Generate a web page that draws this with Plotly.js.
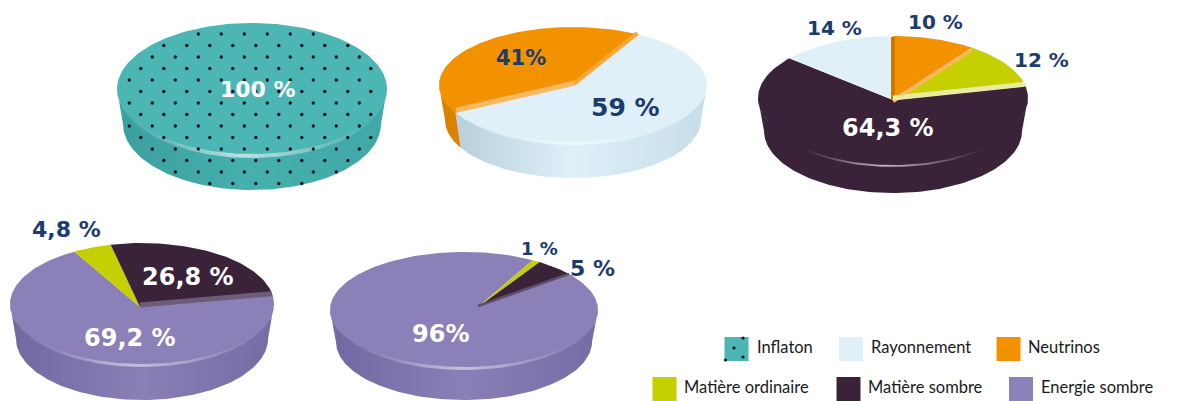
<!DOCTYPE html>
<html><head><meta charset="utf-8">
<script src="https://cdn.plot.ly/plotly-3.0.1.min.js"></script>
<style>html,body{margin:0;padding:0;background:#fff;overflow:hidden}#c{width:1192px;height:401px}</style>
</head><body><div id="c"></div>
<script>
// ---------- data ----------
const categories = ["Inflaton","Rayonnement","Neutrinos","Matière ordinaire","Matière sombre","Energie sombre"];
const pie1Names = ["Inflaton"];
const pie1Values = [100];
const pie2Names = ["Rayonnement","Neutrinos"];
const pie2Values = [59,41];
const pie3Names = ["Neutrinos","Matière ordinaire","Matière sombre","Rayonnement"];
const pie3Values = [10,12,64.3,14];
const pie4Names = ["Energie sombre","Matière ordinaire","Matière sombre"];
const pie4Values = [69.2,4.8,26.8];
const pie5Names = ["Energie sombre","Matière ordinaire","Matière sombre"];
const pie5Values = [96,1,5];
const pie1Labels = ["100 %"];
const pie2Labels = ["59 %","41%"];
const pie3Labels = ["10 %","12 %","64,3 %","14 %"];
const pie4Labels = ["69,2 %","4,8 %","26,8 %"];
const pie5Labels = ["96%","1 %","5 %"];

// ---------- styles ----------
const top_ = {"Inflaton":"#4cb6b5","Rayonnement":"#dff0f9","Neutrinos":"#f39200","Matière ordinaire":"#c6cf00","Matière sombre":"#3a2238","Energie sombre":"#8b80b7"};
const wallStops = {
 "Inflaton":["#3c9f9e","#45b0ae","#40a8a7"],
 "Rayonnement":["#b2cbd8","#dff0f8","#c6dde8"],
 "Neutrinos":["#d88200","#e48c00","#e48c00"],
 "Matière ordinaire":["#a0a800","#b0b800","#a0a800"],
 "Matière sombre":["#3a2238","#3a2238","#3a2238"],
 "Energie sombre":["#7268a2","#8a7fb6","#766ca5"]
};
const NAVY="#1c3b6e", WHITE="#ffffff";
const TAPER=6;
const pies = [
 {names:pie1Names,values:pie1Values,labels:pie1Labels,cx:252,cy:89,rx:135,ry:66,depth:35,start:90,ax:252,ay:89,
  lab:[[258,89,WHITE,22]],glow:[200,345,3,1,"rgba(255,255,255,.62)"],cuts:[]},
 {names:pie2Names,values:pie2Values,labels:pie2Labels,cx:573,cy:85,rx:134,ry:58,depth:35,start:61,ax:575,ay:85,
  lab:[[625,107,NAVY,25],[521,58,NAVY,21]],glow:[205,350,2,1,"rgba(255,255,255,.55)"],
  cuts:[[1,"#fbb860",5,-2],[0,"#f7a836",4,-2]]},
 {names:pie3Names,values:pie3Values,labels:pie3Labels,cx:893,cy:98,rx:135,ry:62,depth:33,start:90,ax:893,ay:100,
  lab:[[935,22,NAVY,20],[1041,60,NAVY,20],[888,128,WHITE,24],[834,28,NAVY,20]],glow:[228,312,7,-5,"rgba(205,195,215,.9)"],
  cuts:[[0,"#c97a00",4,0],[1,"#fbb860",4,1],[2,"#e9eba0",5,-2]]},
 {names:pie4Names,values:pie4Values,labels:pie4Labels,cx:142,cy:304,rx:132,ry:61,depth:35,start:8,ax:140,ay:307,
  lab:[[130,338,WHITE,24],[66,229,NAVY,22],[188,277,WHITE,24]],glow:[205,345,2,1,"rgba(255,255,255,.5)"],
  cuts:[[0,"#6d5c78",5,-2]]},
 {names:pie5Names,values:pie5Values,labels:pie5Labels,cx:464,cy:310,rx:134,ry:58,depth:32,start:38,ax:478,ay:307,
  lab:[[440,334,WHITE,24],[539,248,NAVY,18],[592,268,NAVY,22]],glow:[215,345,2,1,"rgba(255,255,255,.5)"],
  cuts:[[0,"#5c4d6a",2.5,-1]]}
];
const legendCells = [
 {name:"Inflaton",sx:736.5,sy:349,tx:755},
 {name:"Rayonnement",sx:851,sy:349,tx:869},
 {name:"Neutrinos",sx:1008.5,sy:349,tx:1026},
 {name:"Matière ordinaire",sx:664.5,sy:389,tx:682},
 {name:"Matière sombre",sx:848.5,sy:389,tx:866},
 {name:"Energie sombre",sx:1021,sy:389,tx:1039}
];
const LABEL_FONT='"DejaVu Sans"', LEGEND_FONT='Lato';

// ---------- geometry from values ----------
const rad=d=>d*Math.PI/180;
const px=(p,a,rX)=>p.cx+(rX===undefined?p.rx:rX)*Math.cos(rad(a));
const py=(p,a,rY)=>p.cy-(rY===undefined?p.ry:rY)*Math.sin(rad(a));
function arcPts(a0,a1){const n=Math.max(2,Math.ceil(Math.abs(a1-a0)/1.5));const out=[];for(let i=0;i<=n;i++)out.push(a0+(a1-a0)*i/n);return out;}
const traces=[], annotations=[];
const poly=(x,y,extra,name)=>traces.push(Object.assign({type:'scatter',mode:'lines',x,y,fill:'toself',line:{width:0},hoverinfo:'skip',showlegend:false,name},extra));

pies.forEach(p=>{
  const sum=p.values.reduce((a,b)=>a+b,0);
  let a=p.start; const spans=[];
  p.values.forEach((v,i)=>{const b=a-v/sum*360;spans.push([a,b,p.names[i]]);a=b;});
  // walls: the front part of each slice's rim
  spans.forEach(([a0,a1,nm])=>{
    [[180,360],[-180,0],[-540,-360]].forEach(([lo,hi])=>{
      const s=Math.max(a1,lo),e=Math.min(a0,hi);
      if(e<=s)return;
      const pts=arcPts(e,s), back=pts.slice().reverse();
      const x=pts.map(t=>px(p,t)).concat(back.map(t=>px(p,t,p.rx-TAPER)));
      const y=pts.map(t=>py(p,t,p.ry-2)).concat(back.map(t=>py(p,t)+p.depth));
      x.push(x[0]);y.push(y[0]);
      const w=wallStops[nm];
      poly(x,y,{fillgradient:{type:'horizontal',start:p.cx-p.rx,stop:p.cx+p.rx,colorscale:[[0,w[0]],[0.5,w[1]],[1,w[2]]]}},nm);
    });
  });
  // top faces
  spans.forEach(([a0,a1,nm])=>{
    const pts=arcPts(a0,a1);
    const x=[p.ax].concat(pts.map(t=>px(p,t)),[p.ax]);
    const y=[p.ay].concat(pts.map(t=>py(p,t)),[p.ay]);
    poly(x,y,{fillcolor:top_[nm]},nm);
  });
  // cut faces along slice boundaries
  p.cuts.forEach(([idx,col,wd,dy])=>{
    const t=spans[idx][0];
    traces.push({type:'scatter',mode:'lines',x:[p.ax,px(p,t,p.rx-1)],y:[p.ay+dy,py(p,t,p.ry-1)+dy],line:{color:col,width:wd},hoverinfo:'skip',showlegend:false});
  });
  // rim highlight
  const [g0,g1,gOut,gIn,gc]=p.glow;
  const pts=arcPts(g0,g1);
  const gx=pts.map(t=>px(p,t)).concat(pts.slice().reverse().map(t=>px(p,t)));
  const gy=pts.map(t=>py(p,t,p.ry+gOut)).concat(pts.slice().reverse().map(t=>py(p,t,p.ry-gIn)));
  gx.push(gx[0]);gy.push(gy[0]);
  const clear=gc.replace(/[\d.]+\)$/,'0)');
  poly(gx,gy,{fillgradient:{type:'horizontal',colorscale:[[0,clear],[0.45,gc],[1,clear]]}},'rim');
  // value labels
  p.labels.forEach((t,i)=>{
    const [x,y,c,sz]=p.lab[i];
    annotations.push({x,y,xref:'x',yref:'y',text:t,showarrow:false,xanchor:'center',yanchor:'middle',
      font:{family:LABEL_FONT,size:sz,color:c,weight:'bold'}});
  });
});

// Inflaton texture: staggered dot lattice on the first disk
(function(){
  const p=pies[0],xs=[],ys=[];
  const inE=(x,y,cy,rx)=>((x-p.cx)/rx)**2+((y-cy)/p.ry)**2<0.985;
  for(let r=0;r<15;r++){
    const y=34+r*11.5;
    for(let n=-6;n<8;n++){
      const x=198.3+23*n+(r%2?11.5:0);
      if(inE(x,y,p.cy,p.rx)||inE(x,y,p.cy+p.depth,p.rx-TAPER)){xs.push(x);ys.push(y);}
    }
  }
  traces.push({type:'scatter',mode:'markers',x:xs,y:ys,marker:{symbol:'circle',size:3.4,color:'#14141a'},hoverinfo:'skip',showlegend:false,name:'Inflaton'});
})();

// Legend
legendCells.forEach(c=>{
  traces.push({type:'scatter',mode:'markers',x:[c.sx],y:[c.sy],name:c.name,marker:{symbol:'square',size:24,color:top_[c.name],line:{width:0}},hoverinfo:'skip',showlegend:false});
  annotations.push({x:c.tx,y:c.sy-2,xref:'x',yref:'y',text:c.name,showarrow:false,xanchor:'left',yanchor:'middle',font:{family:LEGEND_FONT,size:16.5,color:'#1a1a1a'}});
});
const s0=legendCells[0];
traces.push({type:'scatter',mode:'markers',x:[s0.sx+6.5,s0.sx-2.5,s0.sx+6.5,s0.sx-11],y:[s0.sy-11,s0.sy-1,s0.sy+8,s0.sy+11],marker:{symbol:'circle',size:3.2,color:'#14141a'},hoverinfo:'skip',showlegend:false});

const axis=r=>({range:r,visible:false,fixedrange:true,showgrid:false,zeroline:false});
Plotly.newPlot('c',traces,{
  width:1192,height:401,margin:{l:0,r:0,t:0,b:0},paper_bgcolor:'#fff',plot_bgcolor:'#fff',showlegend:false,
  xaxis:axis([0,1192]),yaxis:axis([401,0]),annotations
},{displayModeBar:false,staticPlot:true});
</script></body></html>
